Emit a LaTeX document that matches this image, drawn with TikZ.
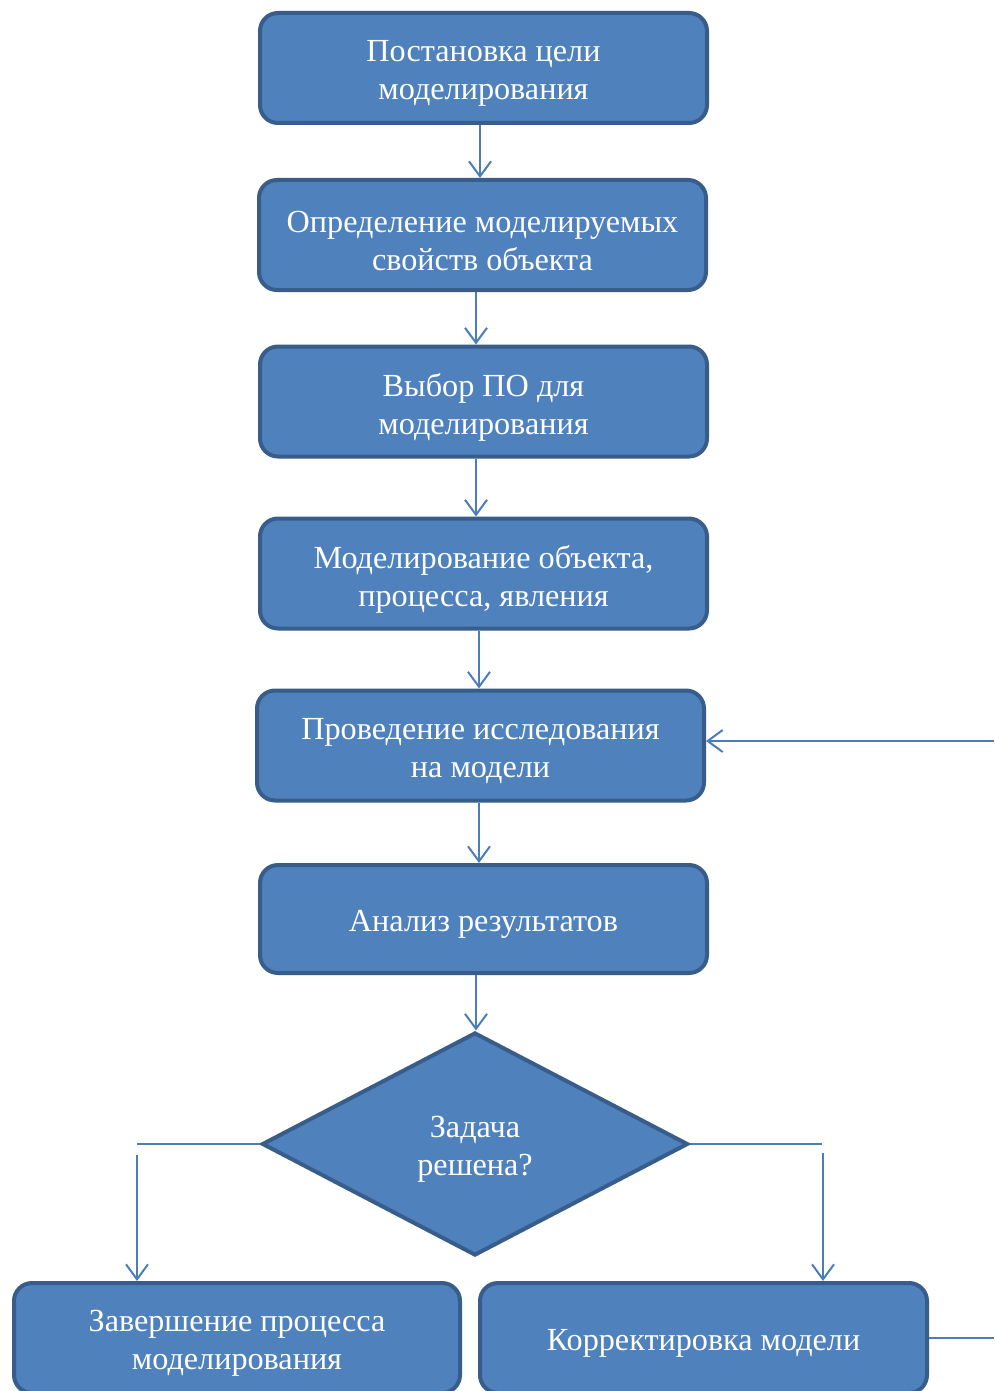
\documentclass[tikz,border=0pt]{standalone}
\usepackage{fontspec}
\setmainfont{Liberation Serif}
\usetikzlibrary{shapes.geometric,arrows.meta}
\definecolor{boxfill}{HTML}{4F81BD}
\definecolor{boxline}{HTML}{385D8A}
\definecolor{conn}{HTML}{4A7EBB}
\tikzset{
  stepbox/.style={rectangle, rounded corners=18pt, draw=boxline, fill=boxfill, line width=4pt,
    minimum width=447pt, minimum height=110pt, inner sep=0pt},
  decision/.style={diamond, draw=boxline, fill=boxfill, line width=4pt,
    minimum width=426pt, minimum height=223pt, inner sep=0pt},
  boxtext/.style={text=white, align=center, inner sep=0pt, yshift=-5.5pt,
    font=\fontsize{32.2}{38}\selectfont},
  conline/.style={draw=conn, line width=2pt},
  arrowline/.style={conline, -{Straight Barb[length=15pt,width=22pt,line width=2pt]}},
}
\begin{document}
\begin{tikzpicture}[x=1pt,y=-1pt]
\clip (0,0) rectangle (994,1391);
\fill[white] (0,0) rectangle (994,1391);
\node[stepbox] (b1) at (483.5,68) {};
\node[stepbox] (b2) at (482.5,235) {};
\node[stepbox] (b3) at (483.5,401.5) {};
\node[stepbox] (b4) at (483.5,573.5) {};
\node[stepbox] (b5) at (480.5,745.5) {};
\node[stepbox, minimum height=108pt] (b6) at (483.5,919) {};
\node[decision] (d) at (475,1144) {};
\node[stepbox, minimum width=446pt] (b7) at (237,1338) {};
\node[stepbox] (b8) at (703.5,1338) {};

\node[boxtext] (t1) at (b1.center) {Постановка цели\\моделирования};
\node[boxtext] (t2) at (b2.center) {Определение моделируемых\\свойств объекта};
\node[boxtext] (t3) at (b3.center) {Выбор ПО для\\моделирования};
\node[boxtext] (t4) at (b4.center) {Моделирование объекта,\\процесса, явления};
\node[boxtext] (t5) at (b5.center) {Проведение исследования\\на модели};
\node[boxtext] (t6) at (b6.center) {Анализ результатов};
\node[boxtext] (td) at (d.center) {Задача\\решена?};
\node[boxtext] (t7) at (b7.center) {Завершение процесса\\моделирования};
\node[boxtext] (t8) at (b8.center) {Корректировка модели};

\coordinate (x1) at (480,0);
\coordinate (x2) at (476,0);
\coordinate (x4) at (479,0);
\draw[arrowline] (b1.south -| x1) -- (b2.north -| x1);
\draw[arrowline] (b2.south -| x2) -- (b3.north -| x2);
\draw[arrowline] (b3.south -| x2) -- (b4.north -| x2);
\draw[arrowline] (b4.south -| x4) -- (b5.north -| x4);
\draw[arrowline] (b5.south -| x4) -- (b6.north -| x4);
\draw[arrowline] (b6.south -| x2) -- (d.north -| x2);

\coordinate (lc) at (137,1147);
\coordinate (lv) at (137,1155);
\draw[conline] (d.west) -- (d.west -| lc);
\draw[arrowline] (lv) -- (lv |- b7.north);

\coordinate (rc) at (822,1147);
\coordinate (rv) at (823,1153);
\draw[conline] (d.east) -- (d.east -| rc);
\draw[arrowline] (rv) -- (rv |- b8.north);

\coordinate (outc) at (994,1334);
\draw[conline] (b8.east) -- (b8.east -| outc);
\coordinate (fb) at (994,741);
\draw[arrowline] (fb) -- (fb -| b5.east);
\end{tikzpicture}
\end{document}
